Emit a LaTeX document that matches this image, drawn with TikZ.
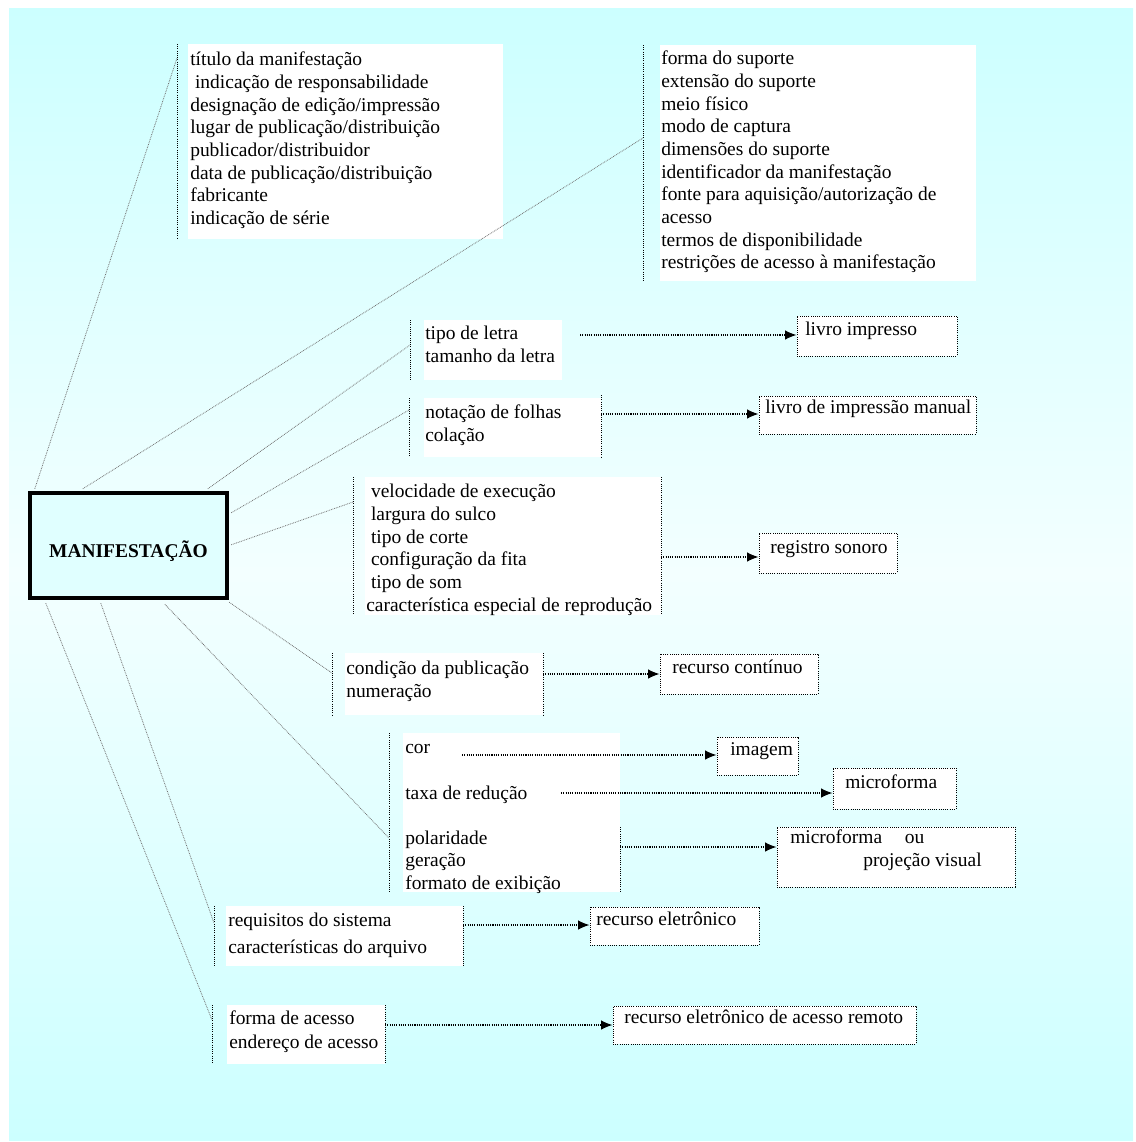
\documentclass[tikz,border=0pt]{standalone}
\usepackage{fontspec}
\setmainfont{Liberation Serif}
\usetikzlibrary{fit,calc,arrows.meta}

\definecolor{bgtop}{RGB}{204,255,255}
\definecolor{bgmid}{RGB}{243,255,255}
\definecolor{manfill}{RGB}{224,255,255}

\begin{document}
\begin{tikzpicture}[x=0.75pt,y=-0.75pt]
	\tikzstyle{txtbase}=[anchor=north west, inner sep=0pt, align=left, execute at begin node={\rule{0pt}{12pt}}, font=\fontsize{14.6}{17}\selectfont]
	\tikzstyle{txt}=[txtbase, yshift=12pt]
	\tikzstyle{list}=[txtbase, yshift=9pt]
	\tikzstyle{sheet}=[fill=white, inner sep=0pt]
	\tikzstyle{target}=[fill=white, inner sep=0pt, draw=black, line width=0.75pt, dash pattern=on 0.75pt off 0.9pt]
	\tikzstyle{side}=[black, line width=0.75pt, dash pattern=on 0.75pt off 0.9pt]
	\tikzstyle{connect}=[black!55, line width=0.6pt, dash pattern=on 0.6pt off 0.7pt]
	\tikzstyle{arrow}=[black, line width=0.8pt, dash pattern=on 0.8pt off 0.9pt, -{Latex[length=8.5pt,width=7pt]}]
	\tikzstyle{main}=[draw=black, line width=3.3pt, fill=manfill, minimum width=147.75pt, minimum height=78.75pt, inner sep=0pt, text height=18pt, text depth=0pt, font=\fontsize{14.6}{17}\selectfont\bfseries]

	\useasboundingbox (0,0) rectangle (1135,1142);
	\shade[top color=bgtop, bottom color=bgtop, middle color=bgmid] (9,8) rectangle (1133,1140);

	\node[main] (man) at (128.5,545.5) {MANIFESTAÇÃO};

	% white sheets of attributes
	\node[sheet, fit={(188,44) (503,239)}]   (sTit) {};
	\node[sheet, fit={(660,45) (976,281)}]   (sSup) {};
	\node[sheet, fit={(424,320) (562,380)}]  (sLet) {};
	\node[sheet, fit={(424,398) (601,457)}]  (sFol) {};
	\node[sheet, fit={(365,477) (661,615)}]  (sSom) {};
	\node[sheet, fit={(345,653) (543,715)}]  (sPub) {};
	\node[sheet, fit={(403,733) (620,892)}]  (sCor) {};
	\node[sheet, fit={(226,906) (463,966)}]  (sSis) {};
	\node[sheet, fit={(227,1005) (385,1064)}] (sAce) {};

	\draw[side] (177,44) -- (177,239);
	\draw[side] (643,45) -- (643,281);
	\draw[side] (410,320) -- (410,380);
	\draw[side] (409,398) -- (409,457);
	\draw[side] (601,395) -- (601,457);
	\draw[side] (353,477) -- (353,615);
	\draw[side] (661,477) -- (661,615);
	\draw[side] (332,653) -- (332,715);
	\draw[side] (543,653) -- (543,715);
	\draw[side] (389,733) -- (389,892);
	\draw[side] (620,827) -- (620,892);
	\draw[side] (214,906) -- (214,966);
	\draw[side] (463,906) -- (463,966);
	\draw[side] (212,1005) -- (212,1064);
	\draw[side] (385,1005) -- (385,1064);

	\node[list] (tTit) at (190,64) {título da manifestação\\
		\hspace*{3.6pt}indicação de responsabilidade\\
		designação de edição/impressão\\
		lugar de publicação/distribuição\\
		publicador/distribuidor\\
		data de publicação/distribuição\\
		fabricante\\
		indicação de série};
	\node[list] (tSup) at (661,63) {forma do suporte\\
		extensão do suporte\\
		meio físico\\
		modo de captura\\
		dimensões do suporte\\
		identificador da manifestação\\
		fonte para aquisição/autorização de\\
		acesso\\
		termos de disponibilidade\\
		restrições de acesso à manifestação};
	\node[list] (tLet) at (425,338) {tipo de letra\\ tamanho da letra};
	\node[list] (tFol) at (425,417) {notação de folhas\\ colação};
	\node[list] (tSom) at (366,496) {\hspace*{3.6pt}velocidade de execução\\
		\hspace*{3.6pt}largura do sulco\\
		\hspace*{3.6pt}tipo de corte\\
		\hspace*{3.6pt}configuração da fita\\
		\hspace*{3.6pt}tipo de som\\
		característica especial de reprodução};
	\node[list] (tPub) at (346,673) {condição da publicação\\ numeração};
	\node[list] (tCor) at (405,756) {cor\\[17.5pt] taxa de redução\\[16.5pt] polaridade\\ geração\\ formato de exibição};
	\node[list, font=\fontsize{14.6}{20.25}\selectfont] (tSis) at (228,925) {requisitos do sistema\\ características do arquivo};
	\node[list, font=\fontsize{14.6}{18}\selectfont] (tAce) at (229,1023) {forma de acesso\\ endereço de acesso};

	% resources
	\node[target, fit={(797,316) (957,356)}]  (bImp) {};
	\node[target, fit={(759,396) (976,434)}]  (bMan) {};
	\node[target, fit={(759,533) (897,573)}]  (bSon) {};
	\node[target, fit={(660,654) (818,694)}]  (bCon) {};
	\node[target, fit={(717,737) (798,775)}]  (bIma) {};
	\node[target, fit={(833,768) (956,809)}]  (bMic) {};
	\node[target, fit={(777,827) (1015,887)}] (bVis) {};
	\node[target, fit={(590,907) (759,945)}]  (bEle) {};
	\node[target, fit={(613,1006) (916,1044)}] (bRem) {};

	\node[txt] (rImp) at (805,335) {livro impresso};
	\node[txt] (rMan) at (765,413) {livro de impressão manual};
	\node[txt] (rSon) at (770,553) {registro sonoro};
	\node[txt] (rCon) at (672,673) {recurso contínuo};
	\node[txt] (rIma) at (730,755) {imagem};
	\node[txt] (rMic) at (845,788) {microforma};
	\node[txt] (rVis) at (790,846) {microforma\hspace{17pt}ou\\ \hspace*{54.75pt}projeção visual};
	\node[txt] (rEle) at (596,925) {recurso eletrônico};
	\node[txt] (rRem) at (624,1023) {recurso eletrônico de acesso remoto};

	\coordinate (cTit) at (177,58);
	\coordinate (cSup) at (643,138);
	\coordinate (cLet) at (410,345);
	\coordinate (cFol) at (409,410);
	\coordinate (cSom) at (353,502);
	\coordinate (cPub) at (332,673);
	\coordinate (cCor) at (389,838);
	\coordinate (cSis) at (214,923);
	\coordinate (cAce) at (212,1020);

	\path
	($(man.north west)+(7,-2)$)  edge [connect] (cTit)
	($(man.north west)+(55,-2)$) edge [connect] (cSup)
	($(man.north west)+(180,-2)$) edge [connect] (cLet)
	($(man.north east)+(2,22)$)  edge [connect] (cFol)
	($(man.north east)+(2,54)$)  edge [connect] (cSom)
	($(man.south east)+(0,2)$)   edge [connect] (cPub)
	($(man.south west)+(137,4)$) edge [connect] (cCor)
	($(man.south west)+(73,3)$)  edge [connect] (cSis)
	($(man.south west)+(18,3)$)  edge [connect] (cAce)
	;

	\coordinate (oLet) at (580,335);
	\coordinate (oFol) at (601,414);
	\coordinate (oSom) at (661,557);
	\coordinate (oPub) at (543,674);
	\coordinate (oCor) at (462,755);
	\coordinate (oTax) at (561,793);
	\coordinate (oPol) at (620,847);
	\coordinate (oSis) at (463,925);
	\coordinate (oAce) at (385,1025);

	\draw[arrow] (oLet) -- (oLet -| bImp.west);
	\draw[arrow] (oFol) -- (oFol -| bMan.west);
	\draw[arrow] (oSom) -- (oSom -| bSon.west);
	\draw[arrow] (oPub) -- (oPub -| bCon.west);
	\draw[arrow] (oCor) -- (oCor -| bIma.west);
	\draw[arrow] (oTax) -- (oTax -| bMic.west);
	\draw[arrow] (oPol) -- (oPol -| bVis.west);
	\draw[arrow] (oSis) -- (oSis -| bEle.west);
	\draw[arrow] (oAce) -- (oAce -| bRem.west);
\end{tikzpicture}
\end{document}
